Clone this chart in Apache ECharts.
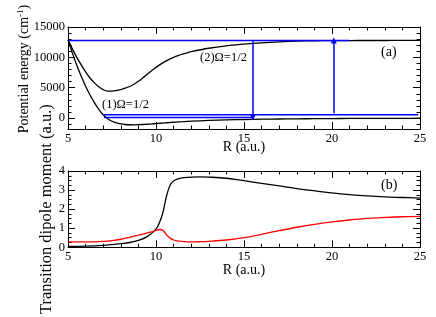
<!DOCTYPE html>
<html>
<head>
<meta charset="utf-8">
<script src="https://cdn.jsdelivr.net/npm/echarts@6/dist/echarts.min.js"></script>
<style>html,body{margin:0;padding:0;background:#fff}#c{width:436px;height:317px}</style>
</head>
<body>
<div id="c"></div>
<script>
// ---- Panel (a): potential energy curves ----
const rA = [5,5.25,5.5,5.75,6,6.25,6.5,6.75,7,7.25,7.5,7.75,8,8.25,8.5,8.75,9,9.25,9.5,9.75,10,10.25,10.5,10.75,11,11.25,11.5,11.75,12,13,14,15,16,17,18,19,20,21,22,23,24,25];
const state1 = [12900,10700,8700,6900,5250,3800,2550,1450,550,-100,-520,-800,-970,-1060,-1100,-1110,-1095,-1060,-1015,-965,-910,-855,-800,-745,-690,-640,-595,-550,-510,-390,-305,-240,-190,-150,-120,-98,-80,-66,-55,-46,-38,-32];
const state2 = [12900,11400,10000,8750,7600,6600,5800,5150,4680,4450,4450,4540,4700,4920,5200,5580,6050,6600,7200,7800,8350,8850,9300,9680,10000,10280,10520,10740,10940,11500,11900,12180,12400,12560,12670,12730,12760,12770,12775,12780,12785,12790];
// blue level lines: [R start, R end, energy]
const levelUpper = [5, 21, 12770];
const levelMid = [7.05, 24.9, 550];
const levelLow = [7.05, 15.5, 100];
// arrows: [R, from energy, to energy]
const arrowDown = [15.5, 12770, 100];
const arrowUp = [20.1, 800, 12770];
const energyTicksMajor = [0, 5000, 10000, 15000];
const energyTicksMinor = [-1000,1000,2000,3000,4000,6000,7000,8000,9000,11000,12000,13000,14000];

// ---- Panel (b): transition dipole moments ----
const rB = [5,6,7,7.5,8,8.5,9,9.5,10,10.2,10.4,10.6,10.8,11,11.3,11.6,12,12.5,13,14,15,16,17,18,19,20,21,22,23,24,25];
const dipoleBlack = [0.04,0.06,0.1,0.14,0.19,0.25,0.36,0.56,0.95,1.3,1.85,2.7,3.25,3.48,3.6,3.65,3.68,3.69,3.68,3.62,3.49,3.35,3.22,3.08,2.96,2.85,2.76,2.69,2.64,2.61,2.58];
const dipoleRed = [0.28,0.28,0.31,0.35,0.42,0.52,0.63,0.75,0.88,0.93,0.88,0.65,0.48,0.38,0.32,0.29,0.28,0.29,0.31,0.38,0.5,0.68,0.87,1.05,1.2,1.33,1.43,1.51,1.56,1.6,1.62];

const FONT = 'Liberation Serif';
const zip = (xs, ys) => xs.map((x, i) => [x, ys[i]]);
const plain = v => String(v);

function xAxisCfg(gridIndex, pos, labels, nameGap) {
  return {
    type: 'value', gridIndex, position: pos, min: 5, max: 25, interval: 5,
    axisLine: { show: true, onZero: false, lineStyle: { color: '#000', width: 1 } },
    axisTick: { show: true, inside: true, length: 7, lineStyle: { color: '#000' } },
    minorTick: { show: true, splitNumber: 5, length: 3.5, lineStyle: { color: '#000' } },
    axisLabel: { show: labels, color: '#000', fontFamily: FONT, fontSize: 12.5, margin: 3, formatter: plain },
    splitLine: { show: false },
    name: labels ? 'R (a.u.)' : '', nameLocation: 'middle', nameGap: nameGap, nameMoveOverlap: false,
    nameTextStyle: { color: '#000', fontFamily: FONT, fontSize: 14 }
  };
}

function yEnergy(pos, major, withLabel) {
  return {
    type: 'value', gridIndex: 0, position: pos, min: -1800, max: 15000,
    axisLine: { show: major, onZero: false, lineStyle: { color: '#000', width: 1 } },
    axisTick: { show: true, inside: true, length: major ? 7 : 3.5, customValues: major ? energyTicksMajor : energyTicksMinor, lineStyle: { color: '#000' } },
    axisLabel: { show: withLabel, customValues: energyTicksMajor, color: '#000', fontFamily: FONT, fontSize: 12.5, margin: 3, formatter: plain },
    splitLine: { show: false },
    name: withLabel ? '{n|Potential energy (cm}{s|-1}{n|)}' : '',
    nameLocation: 'middle', nameRotate: 90, nameGap: 36, nameMoveOverlap: false,
    nameTextStyle: { color: '#000', fontFamily: FONT, padding: [0, 0, 0, 18],
      rich: { n: { fontFamily: FONT, fontSize: 14, lineHeight: 16, color: '#000' },
              s: { fontFamily: FONT, fontSize: 9, lineHeight: 16, verticalAlign: 'top', color: '#000' } } }
  };
}

function yDipole(pos, withLabel) {
  return {
    type: 'value', gridIndex: 1, position: pos, min: 0, max: 4, interval: 1,
    axisLine: { show: true, onZero: false, lineStyle: { color: '#000', width: 1 } },
    axisTick: { show: true, inside: true, length: 7, lineStyle: { color: '#000' } },
    minorTick: { show: true, splitNumber: 4, length: 3.5, lineStyle: { color: '#000' } },
    axisLabel: { show: withLabel, color: '#000', fontFamily: FONT, fontSize: 12.5, margin: 3, formatter: plain },
    splitLine: { show: false },
    name: withLabel ? 'Transition dipole moment (a.u.)' : '',
    nameLocation: 'middle', nameRotate: 90, nameGap: 13, nameMoveOverlap: false,
    nameTextStyle: { color: '#000', fontFamily: FONT, fontSize: 16.5 }
  };
}

const blueStyle = { color: '#0000ff', width: 1.5 };
function levelSeries(lv) {
  return { type: 'line', xAxisIndex: 0, yAxisIndex: 0, symbol: 'none', lineStyle: blueStyle,
    data: [[lv[0], lv[2]], [lv[1], lv[2]]], z: 3 };
}
function curve(xi, yi, xs, ys, color) {
  return { type: 'line', xAxisIndex: xi, yAxisIndex: yi, symbol: 'none', smooth: 0.35,
    lineStyle: { color, width: 1.3 }, data: zip(xs, ys), z: 2 };
}

const chart = echarts.init(document.getElementById('c'), null, { renderer: 'canvas' });
chart.setOption({
  animation: false,
  backgroundColor: '#fff',
  grid: [
    { left: 68, top: 27, width: 352, height: 102 },
    { left: 68, top: 171, width: 352, height: 103 }
  ],
  xAxis: [
    xAxisCfg(0, 'bottom', true, 11),
    xAxisCfg(0, 'top', false, 0),
    xAxisCfg(1, 'bottom', true, 16),
    xAxisCfg(1, 'top', false, 0)
  ],
  yAxis: [
    yEnergy('left', true, true),
    yEnergy('left', false, false),
    yEnergy('right', true, false),
    yEnergy('right', false, false),
    yDipole('left', true),
    yDipole('right', false)
  ],
  series: [
    curve(0, 0, rA, state1, '#000'),
    curve(0, 0, rA, state2, '#000'),
    levelSeries(levelMid),
    levelSeries(levelLow),
    Object.assign(levelSeries(levelUpper), {
      markLine: {
        silent: true, symbol: ['none', 'triangle'], symbolSize: 6,
        label: { show: false }, lineStyle: { color: '#0000ff', width: 1.5, type: 'solid' },
        emphasis: { disabled: true },
        data: [
          [{ coord: [arrowDown[0], arrowDown[1]] }, { coord: [arrowDown[0], arrowDown[2]] }],
          [{ coord: [arrowUp[0], arrowUp[1]] }, { coord: [arrowUp[0], arrowUp[2]] }]
        ]
      }
    }),
    curve(2, 4, rB, dipoleBlack, '#000'),
    curve(2, 4, rB, dipoleRed, '#ff0000')
  ],
  graphic: [
    { type: 'text', left: 200, top: 51, style: { text: '(2)Ω=1/2', font: '12.5px "Liberation Serif"', fill: '#000' } },
    { type: 'text', left: 102, top: 98, style: { text: '(1)Ω=1/2', font: '12.5px "Liberation Serif"', fill: '#000' } },
    { type: 'text', left: 381, top: 45, style: { text: '(a)', font: '14px "Liberation Serif"', fill: '#000' } },
    { type: 'text', left: 381, top: 178, style: { text: '(b)', font: '14px "Liberation Serif"', fill: '#000' } }
  ]
});
</script>
</body>
</html>
